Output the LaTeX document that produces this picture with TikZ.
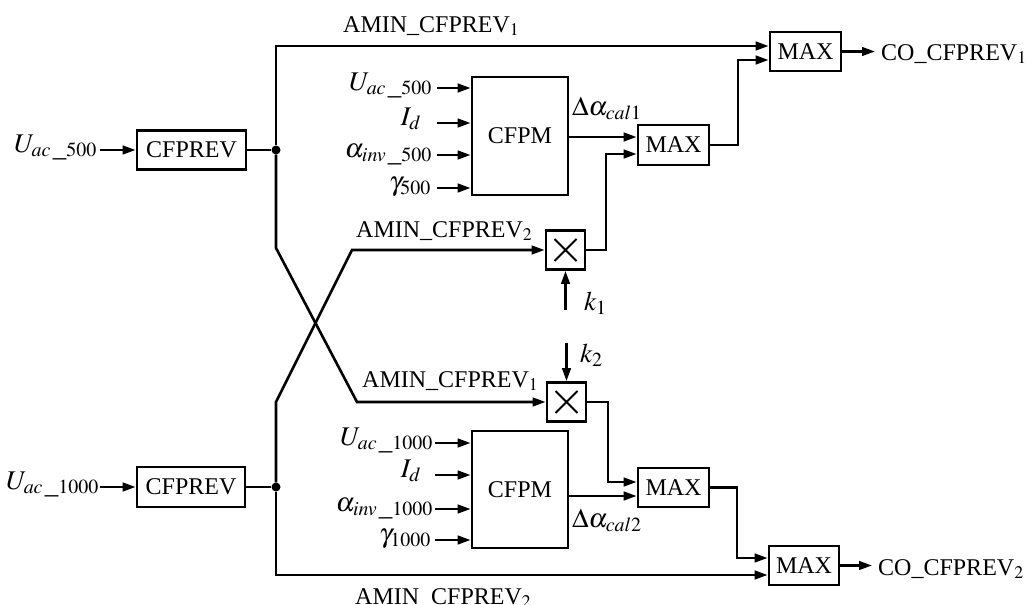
\documentclass[tikz,border=0pt]{standalone}
\usepackage{mathptmx}
\usepackage[no-math]{fontspec}
\setmainfont{Liberation Serif}
\usetikzlibrary{arrows.meta}
\newcommand\inarr[4]{\draw[arr] ([shift={(#3,-2)}]#1.base east) coordinate (tmp#4) -- (#2.west |- tmp#4);}
\begin{document}
\begin{tikzpicture}[x=1pt,y=-1pt,font=\fontsize{24}{28}\selectfont,
  blk/.style={draw,line width=2.6pt,inner sep=0pt},
  mul/.style={draw,line width=2.6pt,inner sep=0pt,minimum size=39pt,
    path picture={\draw[line width=2pt]
      ([shift={(8.5pt,8.5pt)}]path picture bounding box.south west) --
      ([shift={(-8.5pt,-8.5pt)}]path picture bounding box.north east)
      ([shift={(8.5pt,-8.5pt)}]path picture bounding box.north west) --
      ([shift={(-8.5pt,8.5pt)}]path picture bounding box.south east);}},
  conn/.style={line width=2.6pt},
  arr/.style={conn,-{Triangle[length=13pt,width=8.5pt]}},
  lbl/.style={inner sep=0pt},
  mlbl/.style={inner sep=0pt,font=\fontsize{27}{30}\selectfont},
  jdot/.style={circle,fill,inner sep=0pt,minimum size=9pt}]
\clip (0,0) rectangle (1036,605);
\useasboundingbox (0,0) rectangle (1036,605);

% blocks
\node[blk,minimum width=109pt,minimum height=39pt] (cfpA) at (191.5,150) {CFPREV};
\node[blk,minimum width=108pt,minimum height=40pt] (cfpB) at (191,487) {CFPREV};
\node[blk,minimum width=96pt,minimum height=118pt] (cfpmA) at (520,136) {CFPM};
\node[blk,minimum width=96pt,minimum height=117pt] (cfpmB) at (520,489.5) {CFPM};
\node[mul] (mulA) at (565.5,250) {};
\node[mul] (mulB) at (566.5,402) {};
\node[blk,minimum width=71pt,minimum height=40pt] (maxA) at (673.5,145) {MAX};
\node[blk,minimum width=71pt,minimum height=39pt] (maxB) at (673.5,487.5) {MAX};
\node[blk,minimum width=71pt,minimum height=39pt] (maxT) at (805.5,51.5) {MAX};
\node[blk,minimum width=70pt,minimum height=39pt] (maxBt) at (804,565.5) {MAX};

% junctions
\node[jdot] (jA) at (276,150) {};
\node[jdot] (jB) at (276,487) {};

% labels
\node[mlbl,anchor=base east] (uA) at (97,152) {$U_{ac\,\_500}$};
\node[mlbl,anchor=base east] (uB) at (99,489) {$U_{ac\,\_1000}$};

\node[mlbl,anchor=base east] (a1) at (432,90) {$U_{ac\,\_500}$};
\node[mlbl,anchor=base east] (a2) at (421,125) {$I_d$};
\node[mlbl,anchor=base east] (a3) at (432,157) {$\alpha_{inv\,\_500}$};
\node[mlbl,anchor=base east] (a4) at (431,190) {$\gamma_{500}$};

\node[mlbl,anchor=base east] (b1) at (433,445) {$U_{ac\,\_1000}$};
\node[mlbl,anchor=base east] (b2) at (421,477) {$I_d$};
\node[mlbl,anchor=base east] (b3) at (433,511) {$\alpha_{inv\,\_1000}$};
\node[mlbl,anchor=base east] (b4) at (431,542) {$\gamma_{1000}$};

\node[lbl,anchor=base west] (amT) at (343,32) {AMIN\_CFPREV$_1$};
\node[lbl,anchor=base west] (amM2) at (356,237) {AMIN\_CFPREV$_2$};
\node[lbl,anchor=base west] (amM1) at (362,387) {AMIN\_CFPREV$_1$};
\node[lbl,anchor=base west] (amB) at (355,604) {AMIN\_CFPREV$_2$};

\node[mlbl,anchor=base west] (dA) at (572,115) {$\Delta\alpha_{cal1}$};
\node[mlbl,anchor=base west] (dB) at (572,527) {$\Delta\alpha_{cal2}$};

\node[mlbl,anchor=base west] (k1) at (584,310) {$k_1$};
\node[mlbl,anchor=base west] (k2) at (580,362) {$k_2$};

\node[lbl,anchor=base west] (coA) at (881,60) {CO\_CFPREV$_1$};
\node[lbl,anchor=base west] (coB) at (878,575) {CO\_CFPREV$_2$};

% coordinates for bends
\coordinate (tA) at (276,46);
\coordinate (cA1) at (276,248);
\coordinate (cA2) at (357,402);
\coordinate (tB) at (276,575);
\coordinate (cB1) at (276,402);
\coordinate (cB2) at (352,250);
\coordinate (bA) at (606,0);
\coordinate (bB) at (608,0);
\coordinate (bC) at (738,0);
\coordinate (bD) at (737,0);

% left inputs
\draw[arr] ([xshift=3pt]cfpA.west -| uA.east) -- (cfpA.west);
\draw[arr] ([xshift=1pt]cfpB.west -| uB.east) -- (cfpB.west);
\draw[conn] (cfpA.east) -- (jA);
\draw[conn] (cfpB.east) -- (jB);

% CFPM inputs
\inarr{a1}{cfpmA}{5}{1}
\inarr{a2}{cfpmA}{16}{2}
\inarr{a3}{cfpmA}{5}{3}
\inarr{a4}{cfpmA}{6}{4}
\inarr{b1}{cfpmB}{2}{5}
\inarr{b2}{cfpmB}{14}{6}
\inarr{b3}{cfpmB}{2}{7}
\inarr{b4}{cfpmB}{4}{8}

% main lines
\draw[arr] (jA) -- (tA) -- (maxT.west |- tA);
\draw[arr] (jA) -- (cA1) -- (cA2) -- (mulB.west |- cA2);
\draw[arr] (jB) -- (tB) -- (maxBt.west |- tB);
\draw[arr] (jB) -- (cB1) -- (cB2) -- (mulA.west |- cB2);

% multiplier outputs
\draw[arr] (mulA.east) -- (mulA.east -| bA) |- ([yshift=-9pt]maxA.west);
\draw[arr] (mulB.east) -- (mulB.east -| bB) |- ([yshift=5.5pt]maxB.west);

% CFPM outputs
\draw[arr] ([yshift=8pt]maxA.west -| cfpmA.east) -- ([yshift=8pt]maxA.west);
\draw[arr] ([yshift=-8.5pt]maxB.west -| cfpmB.east) -- ([yshift=-8.5pt]maxB.west);

% MAX to MAX
\draw[arr] (maxA.east) -- (maxA.east -| bC) |- ([yshift=-8.5pt]maxT.west);
\draw[arr] (maxB.east) -- (maxB.east -| bD) |- ([yshift=7.5pt]maxBt.west);

% k inputs
\draw[arr] (mulA.south |- k1.base) -- (mulA.south);
\draw[arr] (mulB.north |- k2.north) -- (mulB.north);

% outputs
\draw[arr] (maxT.east) -- ([xshift=-6pt]maxT.east -| coA.west);
\draw[arr] (maxBt.east) -- ([xshift=-6pt]maxBt.east -| coB.west);
\end{tikzpicture}
\end{document}
